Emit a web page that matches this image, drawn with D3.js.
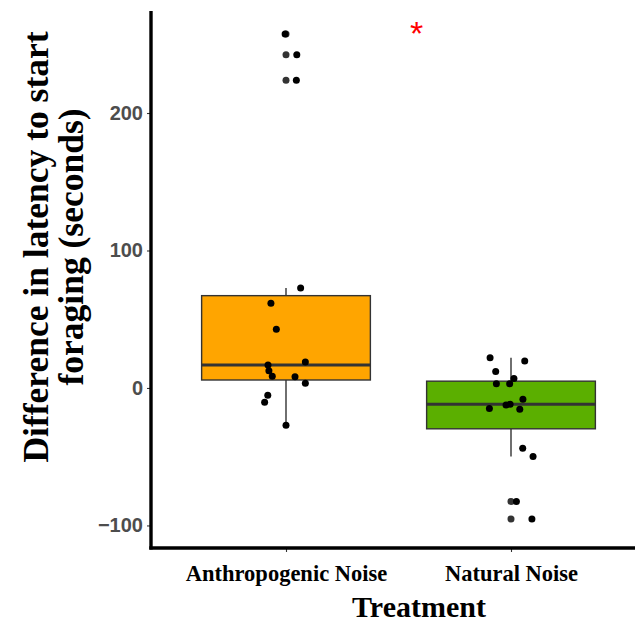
<!DOCTYPE html>
<html>
<head>
<meta charset="utf-8">
<script src="https://cdn.jsdelivr.net/npm/d3@7"></script>
<style>
  html, body { margin: 0; padding: 0; background: #ffffff; }
  svg { display: block; }
</style>
</head>
<body>
<svg id="chart" width="635" height="622"></svg>
<script>
// ---------- data ----------
const categories = ["Anthropogenic Noise", "Natural Noise"];
const fills = ["#FFA500", "#5BAF00"];

const anthropogenicValues = [72.7, 61.6, 42.7, 16.7, 18.9, 12.6, 8.5, 8.2, 3.4, -5.3, -10.4, -27.1, 257.5, 242.4, 223.8];
const anthropogenicJitter = [0.065, -0.067, -0.043, -0.08, 0.086, -0.076, -0.061, 0.04, 0.086, -0.081, -0.095, 0.0, -0.004, 0.048, 0.046];

const naturalValues = [22.0, 19.6, 11.9, 6.8, 3.1, 3.1, -8.2, -12.4, -11.9, -15.0, -15.5, -43.9, -49.9, -82.5, -95.3];
const naturalJitter = [-0.093, 0.061, -0.068, 0.013, -0.065, -0.006, 0.053, -0.022, -0.004, -0.096, 0.039, 0.052, 0.098, 0.024, 0.093];

const yTicks = [-100, 0, 100, 200];
const yDomain = [-116.4, 274.2];
const annotation = { label: "*", category: 1.58, value: 249.5 };

const xTitle = "Treatment";
const yTitleLines = ["Difference in latency to start", "foraging (seconds)"];

// ---------- layout ----------
const svg = d3.select("#chart");
const panel = { left: 151, right: 646, top: 11, bottom: 548 };

const x = d3.scalePoint().domain(categories).range([panel.left, panel.right]).padding(0.6);
const step = x.step();
const y = d3.scaleLinear().domain(yDomain).range([panel.bottom, panel.top]);

const groups = [
  { name: categories[0], values: anthropogenicValues, jitter: anthropogenicJitter, fill: fills[0] },
  { name: categories[1], values: naturalValues, jitter: naturalJitter, fill: fills[1] }
];

groups.forEach(g => {
  const sorted = g.values.slice().sort(d3.ascending);
  const q1 = d3.quantileSorted(sorted, 0.25);
  const med = d3.quantileSorted(sorted, 0.5);
  const q3 = d3.quantileSorted(sorted, 0.75);
  const iqr = q3 - q1;
  const lo = q1 - 1.5 * iqr, hi = q3 + 1.5 * iqr;
  g.q1 = q1; g.med = med; g.q3 = q3;
  g.wLow = d3.min(sorted.filter(v => v >= lo));
  g.wHigh = d3.max(sorted.filter(v => v <= hi));
  g.outliers = sorted.filter(v => v < lo || v > hi);
});

const boxW = step * 0.75;
const gBox = svg.append("g");
groups.forEach(g => {
  const cx = x(g.name);
  gBox.append("line").attr("x1", cx).attr("x2", cx).attr("y1", y(g.q3)).attr("y2", y(g.wHigh))
    .attr("stroke", "#333333").attr("stroke-width", 1.4);
  gBox.append("line").attr("x1", cx).attr("x2", cx).attr("y1", y(g.q1)).attr("y2", y(g.wLow))
    .attr("stroke", "#333333").attr("stroke-width", 1.4);
  gBox.append("rect").attr("x", cx - boxW / 2).attr("y", y(g.q3))
    .attr("width", boxW).attr("height", y(g.q1) - y(g.q3))
    .attr("fill", g.fill).attr("stroke", "#333333").attr("stroke-width", 1.4);
  gBox.append("line").attr("x1", cx - boxW / 2).attr("x2", cx + boxW / 2)
    .attr("y1", y(g.med)).attr("y2", y(g.med))
    .attr("stroke", "#333333").attr("stroke-width", 3);
  gBox.selectAll(null).data(g.outliers).enter().append("circle")
    .attr("cx", cx).attr("cy", d => y(d)).attr("r", 3.5).attr("fill", "#333333");
});

const gPts = svg.append("g");
groups.forEach(g => {
  const cx = x(g.name);
  gPts.selectAll(null).data(g.values.map((v, i) => ({ v, j: g.jitter[i] }))).enter()
    .append("circle")
    .attr("cx", d => cx + d.j * step)
    .attr("cy", d => y(d.v))
    .attr("r", 3.5)
    .attr("fill", "#000000");
});

svg.append("text")
  .attr("x", panel.left + (annotation.category - 1 + 0.6) * step)
  .attr("y", y(annotation.value))
  .attr("text-anchor", "middle")
  .attr("font-family", "Liberation Sans, Arial, sans-serif")
  .attr("font-size", 34)
  .attr("fill", "#FF0000")
  .text(annotation.label);

// y axis
const yAxis = d3.axisLeft(y).tickValues(yTicks).tickSize(4).tickPadding(4)
  .tickFormat(d => d < 0 ? "\u2212" + Math.abs(d) : d);
const gy = svg.append("g").attr("transform", `translate(${panel.left},0)`).call(yAxis);
gy.select(".domain").remove();
gy.selectAll(".tick line").attr("stroke", "#333333").attr("stroke-width", 1.1);
gy.selectAll(".tick text")
  .attr("font-family", "Liberation Sans, Arial, sans-serif")
  .attr("font-weight", "bold")
  .attr("font-size", 20)
  .attr("fill", "#4D4D4D");

// x axis
const xAxis = d3.axisBottom(x).tickSize(4).tickPadding(13);
const gx = svg.append("g").attr("transform", `translate(0,${panel.bottom})`).call(xAxis);
gx.select(".domain").remove();
gx.selectAll(".tick line").attr("stroke", "#333333").attr("stroke-width", 1.1);
gx.selectAll(".tick text")
  .attr("font-family", "Liberation Serif, Times New Roman, serif")
  .attr("font-weight", "bold")
  .attr("font-size", 22.5)
  .attr("fill", "#000000");

// axis lines
svg.append("line").attr("x1", panel.left).attr("x2", panel.left)
  .attr("y1", panel.top).attr("y2", panel.bottom + 1.5)
  .attr("stroke", "#000").attr("stroke-width", 3.4);
svg.append("line").attr("x1", panel.left - 1.7).attr("x2", 635)
  .attr("y1", panel.bottom).attr("y2", panel.bottom)
  .attr("stroke", "#000").attr("stroke-width", 3.4);

// titles
svg.append("text")
  .attr("x", 419).attr("y", 617)
  .attr("text-anchor", "middle")
  .attr("font-family", "Liberation Serif, Times New Roman, serif")
  .attr("font-weight", "bold")
  .attr("font-size", 30)
  .attr("fill", "#000")
  .text(xTitle);

const yt = svg.append("text")
  .attr("transform", "translate(0,247) rotate(-90)")
  .attr("text-anchor", "middle")
  .attr("font-family", "Liberation Serif, Times New Roman, serif")
  .attr("font-weight", "bold")
  .attr("font-size", 35.5)
  .attr("fill", "#000");
yt.selectAll("tspan").data(yTitleLines).enter().append("tspan")
  .attr("x", 0)
  .attr("y", (d, i) => 48 + i * 35)
  .text(d => d);
</script>
</body>
</html>
